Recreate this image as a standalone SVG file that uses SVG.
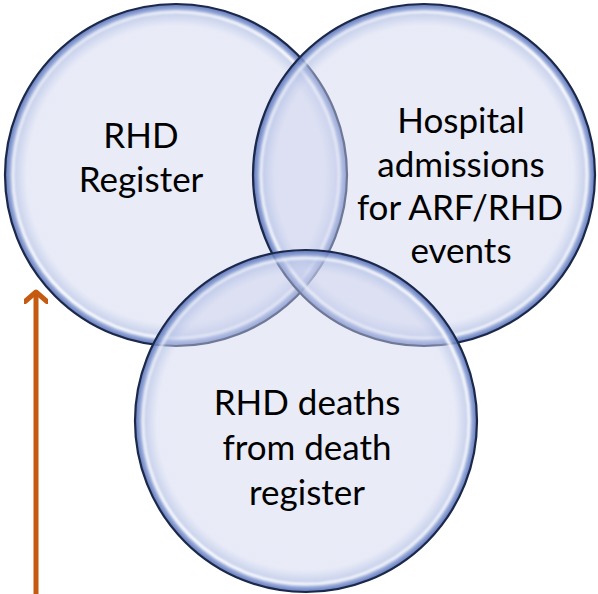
<svg xmlns="http://www.w3.org/2000/svg" width="598" height="594" viewBox="0 0 598 594">
  <style>
    .bubble { fill: url(#bubbleFill); stroke: #1b2849; stroke-width: 2.2; }
    .shine { fill: none; stroke: url(#shineStroke); stroke-width: 3.5; filter: url(#soft); }
    .label { font-family: Lato, "Open Sans", "Liberation Sans", sans-serif; font-size: 35px; fill: #000; text-anchor: middle; }
    .flow { stroke: #c55a11; stroke-width: 5; fill: none; marker-end: url(#chevron); }
  </style>
  <defs>
    <!-- translucent bubble body: pale centre, blue rim -->
    <radialGradient id="bubbleFill" cx="0.5" cy="0.5" r="0.5">
      <stop offset="0" stop-color="#cfd4ee" stop-opacity="0.45"/>
      <stop offset="0.87" stop-color="#cfd4ee" stop-opacity="0.47"/>
      <stop offset="0.93" stop-color="#b4c1e6" stop-opacity="0.65"/>
      <stop offset="0.975" stop-color="#7f95cf" stop-opacity="0.85"/>
      <stop offset="1" stop-color="#566fb6" stop-opacity="0.95"/>
    </radialGradient>
    <!-- inner glint along the rim -->
    <linearGradient id="shineStroke" x1="0" y1="0" x2="1" y2="1">
      <stop offset="0" stop-color="#ffffff" stop-opacity="0.5"/>
      <stop offset="0.5" stop-color="#ffffff" stop-opacity="0.95"/>
      <stop offset="1" stop-color="#ffffff" stop-opacity="0.7"/>
    </linearGradient>
    <filter id="soft" x="-10%" y="-10%" width="120%" height="120%">
      <feGaussianBlur stdDeviation="1.2"/>
    </filter>
    <marker id="chevron" viewBox="-12 -12 24 24" markerWidth="24" markerHeight="24" markerUnits="userSpaceOnUse" refX="0" refY="0" orient="auto">
      <path d="M-9.5,-11 L0,0 L-9.5,11" fill="none" stroke="#c55a11" stroke-width="5" stroke-linecap="round" stroke-linejoin="round"/>
    </marker>
  </defs>

  <rect width="598" height="594" fill="#ffffff"/>

  <g id="connectors">
    <line class="flow" x1="36" y1="594" x2="36" y2="292"/>
  </g>

  <g id="rhd-register">
    <circle class="bubble" cx="176" cy="175" r="171"/>
    <circle class="shine" cx="176" cy="175" r="163"/>
    <text class="label" x="141" y="148">RHD</text>
    <text class="label" x="141" y="192">Register</text>
  </g>

  <g id="hospital-admissions">
    <circle class="bubble" cx="424" cy="175" r="171"/>
    <circle class="shine" cx="424" cy="175" r="163"/>
    <text class="label" x="461" y="133">Hospital</text>
    <text class="label" x="461" y="177">admissions</text>
    <text class="label" x="460" y="220">for ARF/RHD</text>
    <text class="label" x="461" y="263">events</text>
  </g>

  <g id="rhd-deaths">
    <circle class="bubble" cx="306" cy="421" r="171"/>
    <circle class="shine" cx="306" cy="421" r="163"/>
    <text class="label" x="307" y="415">RHD deaths</text>
    <text class="label" x="307" y="460">from death</text>
    <text class="label" x="307" y="505">register</text>
  </g>
</svg>
